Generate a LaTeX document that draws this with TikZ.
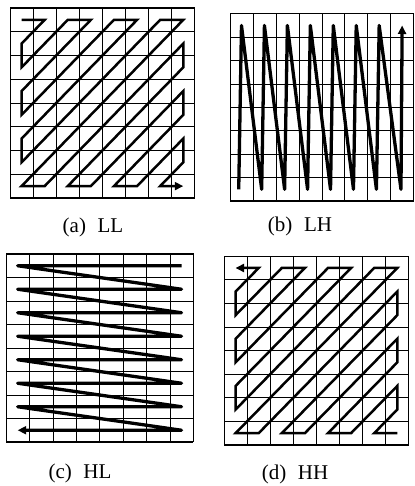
\documentclass[tikz,border=0pt]{standalone}
\usepackage{fontspec}
\setmainfont{Liberation Serif}
\usetikzlibrary{arrows.meta}

\begin{document}
\begin{tikzpicture}[>={Triangle[length=8.5pt, width=8pt]}, x=1pt, y=1pt, every node/.style={font=\fontsize{21}{24}\selectfont}]
	\useasboundingbox (0,0) rectangle (414,486);
	\tikzset{
		gridline/.style={line width=0.6pt},
		frameline/.style={line width=1pt},
		zigline/.style={line width=2.5pt, line join=miter},
		sweepline/.style={line width=3.3pt, line join=round},
	}
	
	% === 左上：LL 子带 (Z 字形扫描) ===
	\begin{scope}[shift={(10,288)}, x=23.1pt, y=23.75pt]
		\draw[gridline, step=1] (0,0) grid (8,8);
		\draw[frameline] (0,0) rectangle (8,8);
		
		% 从左上角出发，终点在右下角
		\draw[zigline, ->] (0.5,7.5) -- (1.5,7.5) -- (0.5,6.5) -- (0.5,5.5) -- (2.5,7.5) -- (3.5,7.5)
			-- (0.5,4.5) -- (0.5,3.5) -- (4.5,7.5) -- (5.5,7.5) -- (0.5,2.5) -- (0.5,1.5)
			-- (6.5,7.5) -- (7.5,7.5) -- (0.5,0.5) -- (1.5,0.5) -- (7.5,6.5) -- (7.5,5.5)
			-- (2.5,0.5) -- (3.5,0.5) -- (7.5,4.5) -- (7.5,3.5) -- (4.5,0.5) -- (5.5,0.5)
			-- (7.5,2.5) -- (7.5,1.5) -- (6.5,0.5) -- (7.5,0.5);
	\end{scope}
	\node (capLL) at (93,259) {(a)\hspace{0.55em}LL};
	
	% === 右上：LH 子带 (按列扫描) ===
	\begin{scope}[shift={(230,285)}, x=22.95pt, y=23.4pt]
		\draw[gridline, step=1] (0,0) grid (8,8);
		\draw[frameline] (0,0) rectangle (8,8);
		
		% 每列自下而上，再斜跳到下一列底部
		\draw[sweepline, ->] (0.38,0.5) -- (0.5,7.5) -- (1.38,0.5) -- (1.5,7.5) -- (2.38,0.5) -- (2.5,7.5)
			-- (3.38,0.5) -- (3.5,7.5) -- (4.38,0.5) -- (4.5,7.5) -- (5.38,0.5) -- (5.5,7.5)
			-- (6.38,0.5) -- (6.5,7.5) -- (7.45,0.5) -- (7.5,7.5);
	\end{scope}
	\node (capLH) at (300,260) {(b)\hspace{0.55em}LH};
	
	% === 左下：HL 子带 (按行扫描) ===
	\begin{scope}[shift={(6,44)}, x=23.4pt, y=23.5pt]
		\draw[gridline, step=1] (0,0) grid (8,8);
		\draw[frameline] (0,0) rectangle (8,8);
		
		% 每行自右向左，再斜跳到下一行右端
		\draw[sweepline, ->] (7.5,7.5) -- (0.5,7.5) -- (7.5,6.5) -- (0.5,6.5) -- (7.5,5.5) -- (0.5,5.5)
			-- (7.5,4.5) -- (0.5,4.5) -- (7.5,3.5) -- (0.5,3.5) -- (7.5,2.5) -- (0.5,2.5)
			-- (7.5,1.5) -- (0.5,1.5) -- (7.5,0.5) -- (0.5,0.5);
	\end{scope}
	\node (capHL) at (80,13) {(c)\hspace{0.55em}HL};
	
	% === 右下：HH 子带 (反向 Z 字形扫描) ===
	\begin{scope}[shift={(224,41)}, x=23.1pt, y=23.6pt]
		\draw[gridline, step=1] (0,0) grid (8,8);
		\draw[frameline] (0,0) rectangle (8,8);
		
		% 从右下角出发，终点回到左上角
		\draw[zigline, <-] (0.5,7.5) -- (1.5,7.5) -- (0.5,6.5) -- (0.5,5.5) -- (2.5,7.5) -- (3.5,7.5)
			-- (0.5,4.5) -- (0.5,3.5) -- (4.5,7.5) -- (5.5,7.5) -- (0.5,2.5) -- (0.5,1.5)
			-- (6.5,7.5) -- (7.5,7.5) -- (0.5,0.5) -- (1.5,0.5) -- (7.5,6.5) -- (7.5,5.5)
			-- (2.5,0.5) -- (3.5,0.5) -- (7.5,4.5) -- (7.5,3.5) -- (4.5,0.5) -- (5.5,0.5)
			-- (7.5,2.5) -- (7.5,1.5) -- (6.5,0.5) -- (7.5,0.5);
	\end{scope}
	\node (capHH) at (295,12) {(d)\hspace{0.55em}HH};
\end{tikzpicture}
\end{document}
